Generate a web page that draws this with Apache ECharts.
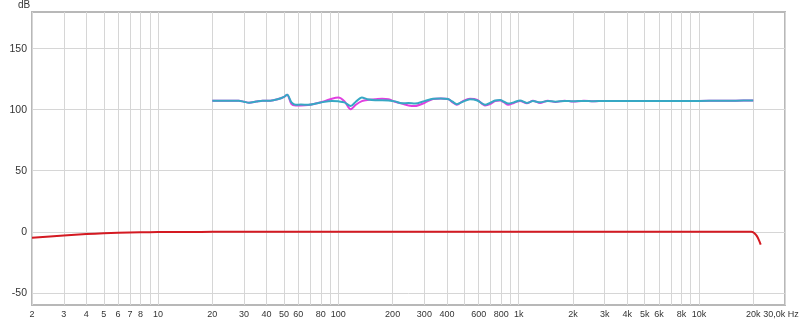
<!DOCTYPE html>
<html><head><meta charset="utf-8">
<script src="https://cdn.jsdelivr.net/npm/echarts@6/dist/echarts.min.js"></script>
<style>html,body{margin:0;padding:0;background:#fff}#c{width:800px;height:322px}</style>
</head><body><div id="c"></div>
<script>
// Frequency grid lines (Hz)
var gridFreqs = [2,3,4,5,6,7,8,9,10,20,30,40,50,60,70,80,90,100,200,300,400,500,600,700,800,900,1000,2000,3000,4000,5000,6000,7000,8000,9000,10000,20000,30000];
// Labelled frequencies
var labelFreqs = [2,3,4,5,6,7,8,10,20,30,40,50,60,80,100,200,300,400,600,800,1000,2000,3000,4000,5000,6000,8000,10000,20000,30000];
// dB tick labels
var dbTicks = [-50,0,50,100,150];

// Measurement curves
var measFreq = [20,25,28,30,32,35,38,42,46,50,52,55,58,62,68,75,84,92,100,108,117,125,135,145,160,175,190,206,225,245,266,300,335,370,406,430,454,490,537,590,651,694,740,789,830,874,940,1018,1110,1200,1315,1450,1600,1800,2000,2300,2600,3000,3500,4000,5000,6000,8000,10000,13000,16000,20000];
var cyanDb = [107.4,107.4,107.3,106.5,105.7,106.6,107.4,107.4,108.5,110.5,112.3,106,104,104.2,104,105,106.5,107,106.8,106,103,106.5,110,108.5,107.8,107.8,107.5,106.8,105.2,105.5,105,107,109,109.2,108.8,106.5,104.5,106.5,108.5,107.5,104,105.5,107.5,108,106.5,105,106,107.6,105.5,107,106,107.2,106.5,107.2,106.8,107.2,106.9,107.1,107,107.1,107,107.1,107.1,107.2,107.3,107.4,107.5];
var magentaDb = [107.4,107.4,107.3,106.5,105.7,106.6,107.4,107.4,108.5,110.5,112.3,104.5,103.5,103.5,103.8,105,107,109,110,107,100.3,104,107,108,108.5,109,108.5,106.5,105,103.5,103,105.5,108.8,109.2,108.8,106,104,107,109,108,103.5,104.5,107,107.5,106,104,105.5,107.2,105.2,107.3,105.5,107.4,106.2,107.4,106.6,107.3,106.8,107.2,107,107.1,107,107.1,107.1,107.2,107.3,107.4,107.5];

// Red response curve
var redFreq = [2,3,4,5,6,8,10,15,20,50,100,1000,10000,18000,19500,20000,20500,21000,21500,22000];
var redDb = [-4.9,-3.0,-1.9,-1.3,-0.9,-0.5,-0.3,-0.15,-0.1,0,0,0,0,0,-0.1,-0.5,-1.8,-3.8,-6.8,-10.6];

function zip(a,b){return a.map(function(v,i){return [v,b[i]];});}
function fmtF(v){
  v = Math.round(v);
  if (v === 30000) return '{e|30,0k Hz}';
  if (v >= 1000) return (v/1000) + 'k';
  return String(v);
}
var FONT = 'Liberation Sans';
var chart = echarts.init(document.getElementById('c'), null, {renderer:'canvas'});
chart.setOption({
  animation:false,
  backgroundColor:'#fff',
  title:{text:'dB', left:18, top:0, padding:0, textStyle:{fontSize:10, fontWeight:'normal', color:'#333', fontFamily:FONT}},
  grid:{left:32, right:15, top:12, bottom:17, show:true, borderColor:'#b8b8b8', borderWidth:2, backgroundColor:'#fff', containLabel:false, outerBoundsMode:'none'},
  xAxis:{
    type:'log', logBase:10, min:2, max:30000,
    axisLine:{show:false},
    axisTick:{show:false, customValues:gridFreqs},
    splitLine:{show:true, lineStyle:{color:'#d6d6d6', width:1}},
    axisLabel:{customValues:labelFreqs, formatter:fmtF, fontSize:9, color:'#333', fontFamily:FONT, margin:5, showMinLabel:true, showMaxLabel:true, hideOverlap:false,
      rich:{e:{fontSize:9, color:'#333', fontFamily:FONT, padding:[0,8,0,0]}}}
  },
  yAxis:{
    type:'value', min:-60, max:180,
    axisLine:{show:false},
    axisTick:{show:false, customValues:dbTicks},
    splitLine:{show:true, lineStyle:{color:'#d6d6d6', width:1}},
    axisLabel:{customValues:dbTicks, fontSize:10.5, color:'#333', fontFamily:FONT, margin:5}
  },
  series:[
    {type:'line', data:zip(redFreq,redDb), showSymbol:false, smooth:0.3, lineStyle:{color:'#d41a22', width:2}, z:3},
    {type:'line', data:zip(measFreq,magentaDb), showSymbol:false, smooth:0.3, lineStyle:{color:'#e040e0', width:2}, z:4},
    {type:'line', data:zip(measFreq,cyanDb), showSymbol:false, smooth:0.3, lineStyle:{color:'#36a8c4', width:2}, z:5}
  ]
});
</script></body></html>
